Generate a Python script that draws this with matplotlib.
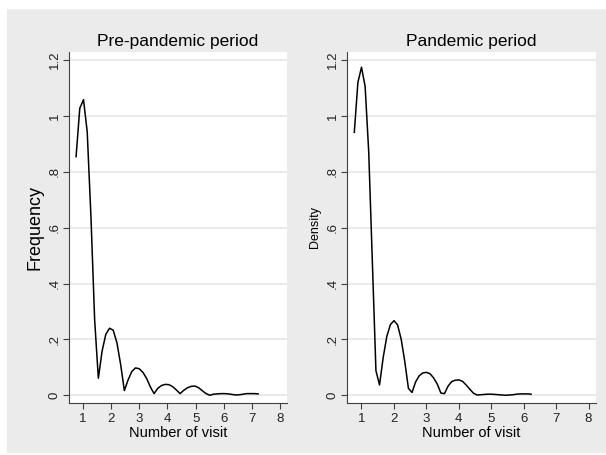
import matplotlib
matplotlib.use("Agg")
import matplotlib.pyplot as plt
from matplotlib.patches import Rectangle

plt.rcParams['font.family'] = ['Liberation Sans', 'DejaVu Sans']

# kernel density estimates (x = number of visits)
pre_x = [0.770, 0.901, 1.033, 1.164, 1.296, 1.427, 1.558, 1.690, 1.821, 1.953,
         2.084, 2.215, 2.347, 2.478, 2.610, 2.741, 2.872, 3.004, 3.135, 3.267,
         3.398, 3.529, 3.661, 3.792, 3.924, 4.055, 4.186, 4.318, 4.449, 4.581,
         4.712, 4.843, 4.975, 5.106, 5.238, 5.369, 5.500, 5.632, 5.763, 5.895,
         6.026, 6.157, 6.289, 6.420, 6.552, 6.683, 6.814, 6.946, 7.077, 7.209]
pre_y = [0.854, 1.027, 1.058, 0.943, 0.640, 0.270, 0.061, 0.158, 0.218, 0.240,
         0.233, 0.188, 0.110, 0.017, 0.055, 0.085, 0.098, 0.095, 0.082, 0.060,
         0.030, 0.006, 0.025, 0.035, 0.039, 0.038, 0.031, 0.019, 0.006, 0.018,
         0.027, 0.032, 0.033, 0.027, 0.016, 0.006, 0.000, 0.004, 0.005, 0.006,
         0.006, 0.005, 0.003, 0.001, 0.002, 0.004, 0.006, 0.006, 0.006, 0.005]

pan_x = [0.780, 0.891, 1.002, 1.114, 1.225, 1.336, 1.447, 1.558, 1.670, 1.781,
         1.892, 2.003, 2.114, 2.226, 2.337, 2.448, 2.559, 2.670, 2.782, 2.893,
         3.004, 3.115, 3.226, 3.338, 3.449, 3.560, 3.671, 3.782, 3.893, 4.005,
         4.116, 4.227, 4.338, 4.449, 4.560, 4.672, 4.783, 4.894, 5.005, 5.116,
         5.227, 5.339, 5.450, 5.561, 5.672, 5.783, 5.894, 6.006, 6.117, 6.228]
pan_y = [0.941, 1.120, 1.174, 1.105, 0.870, 0.480, 0.088, 0.037, 0.135, 0.210,
         0.253, 0.267, 0.252, 0.200, 0.120, 0.025, 0.010, 0.048, 0.070, 0.080,
         0.082, 0.077, 0.062, 0.040, 0.008, 0.006, 0.033, 0.049, 0.054, 0.055,
         0.050, 0.037, 0.022, 0.008, 0.001, 0.002, 0.003, 0.004, 0.004, 0.003,
         0.002, 0.001, 0.000, 0.001, 0.002, 0.004, 0.005, 0.005, 0.005, 0.004]

y_ticks = [0, 0.2, 0.4, 0.6, 0.8, 1.0, 1.2]
y_labels = ['0', '.2', '.4', '.6', '.8', '1', '1.2']
x_ticks = [1, 2, 3, 4, 5, 6, 7, 8]

fig = plt.figure(figsize=(6.06, 4.55), dpi=100, facecolor='white')
fig.patches.append(Rectangle((7 / 606, 2 / 455), 1, 444 / 455,
                             transform=fig.transFigure, facecolor='#ebebeb',
                             edgecolor='none', zorder=-10))

panels = [
    (pre_x, pre_y, 'Pre-pandemic period', 'Frequency', 13, [69, 287]),
    (pan_x, pan_y, 'Pandemic period', 'Density', 9, [347, 596]),
]

for xs, ys, title, ylab, ylab_size, (x0, x1) in panels:
    ax = fig.add_axes([x0 / 606, 1 - 403 / 455, (x1 - x0) / 606, 351 / 455])
    ax.set_facecolor('white')
    ax.plot(xs, ys, color='black', lw=1.1)
    ax.set_xlim(0.52 if x0 < 300 else 0.555, 8.23)
    ax.set_ylim(-0.0276, 1.2286)
    ax.set_yticks(y_ticks)
    ax.set_yticklabels(y_labels, rotation=90, va='center')
    ax.set_xticks(x_ticks)
    ax.grid(axis='y', color='#e8e8e8', lw=1.3)
    ax.set_axisbelow(True)
    for s in ['top', 'right']:
        ax.spines[s].set_visible(False)
    for s in ['left', 'bottom']:
        ax.spines[s].set_color('#404040')
        ax.spines[s].set_linewidth(0.8)
    ax.tick_params(colors='#404040', labelcolor='#222222', labelsize=9.5,
                   length=4, width=0.8, pad=3)
    ax.tick_params(axis='y', pad=2)
    ax.set_title(title, fontsize=12.5, pad=4)
    ax.set_xlabel('Number of visit', fontsize=10.5, labelpad=1)
    ax.set_ylabel(ylab, fontsize=ylab_size, labelpad=4)

fig.savefig('out.png', dpi=100)
